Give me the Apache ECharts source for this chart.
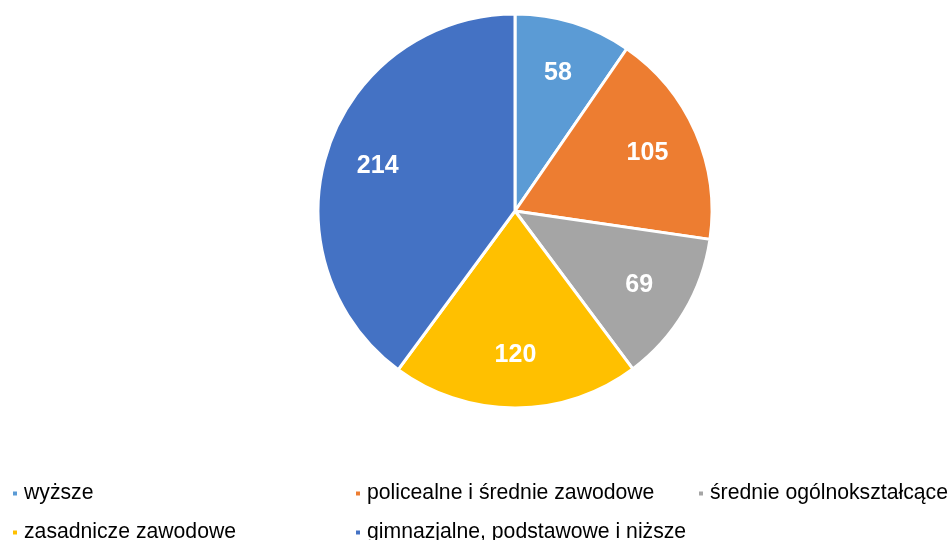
<!DOCTYPE html>
<html lang="pl">
<head>
    <meta charset="utf-8">
    <script src="https://cdn.jsdelivr.net/npm/echarts@6/dist/echarts.min.js"></script>
    <style>
        html, body { margin: 0; padding: 0; background: #fff; }
        #main { width: 952px; height: 540px; }
    </style>
</head>
<body>
<div id="main"></div>
<script>
    // dane z wykresu
    var categories = ['wyższe', 'policealne i średnie zawodowe', 'średnie ogólnokształcące', 'zasadnicze zawodowe', 'gimnazjalne, podstawowe i niższe'];
    // liczby podpisane na wycinkach
    var values = [58, 105, 69, 120, 214];
    // udział wycinków (%) odczytany z kątów na rysunku - nie całkiem zgodny z podpisami
    var shares = [9.6, 17.7, 12.5, 20.3, 39.9];
    var colors = ['#5B9BD5', '#ED7D31', '#A5A5A5', '#FFC000', '#4472C4'];

    var pieData = categories.map(function (name, i) {
        return { name: name, value: shares[i], itemStyle: { color: colors[i] } };
    });

    // legenda w kolumnach jak w Excelu: jedna pozycja na legendę
    var legendLeft = [11, 354, 697, 11, 354];
    var legendTop = [483, 483, 483, 522, 522];

    var legends = categories.map(function (name, i) {
        return {
            left: legendLeft[i],
            top: legendTop[i],
            padding: 0,
            icon: 'rect',
            itemWidth: 6,
            itemHeight: 6,
            data: [name],
            textStyle: { fontFamily: 'Liberation Sans, Arial', fontSize: 21.2, color: '#000', lineHeight: 20, padding: [0, 0, 0, 1] },
            selectedMode: false
        };
    });

    var myChart = echarts.init(document.getElementById('main'));
    myChart.setOption({
        animation: false,
        legend: legends,
        series: [{
            type: 'pie',
            center: [515, 211],
            radius: [0, 197],
            startAngle: 90,
            clockwise: true,
            data: pieData,
            label: { show: false },
            labelLine: { show: false },
            itemStyle: { borderColor: '#fff', borderWidth: 3 },
            emphasis: { disabled: true }
        }, {
            // warstwa tylko na etykiety
            type: 'pie',
            center: [515, 211],
            radius: [86, 197],
            startAngle: 90,
            clockwise: true,
            silent: true,
            data: pieData.map(function (d) {
                return { name: d.name, value: d.value, itemStyle: { color: 'transparent' } };
            }),
            label: {
                show: true,
                position: 'inside',
                formatter: function (p) { return values[p.dataIndex]; },
                color: '#fff',
                fontFamily: 'Liberation Sans, Arial',
                fontWeight: 'bold',
                fontSize: 25
            },
            labelLine: { show: false },
            emphasis: { disabled: true }
        }]
    });
</script>
</body>
</html>
